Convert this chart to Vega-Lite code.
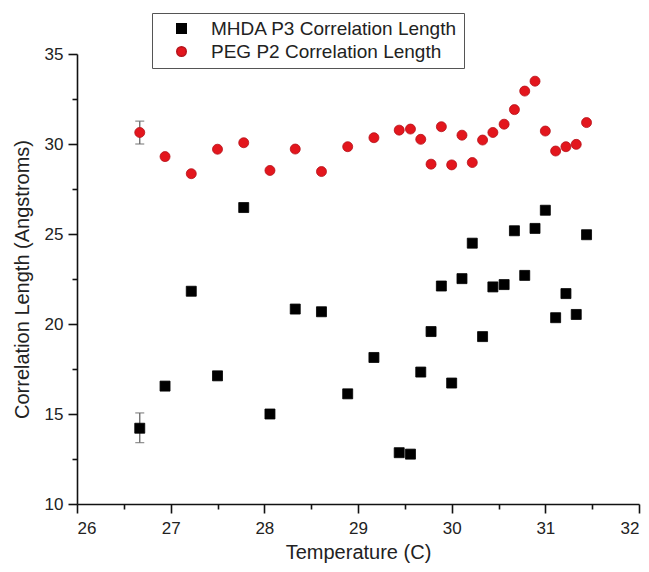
{
  "$schema": "https://vega.github.io/schema/vega-lite/v6.json",
  "width": 562,
  "height": 450,
  "autosize": {"type": "none"},
  "padding": {"left": 77, "top": 54, "right": 10, "bottom": 68},
  "background": "white",
  "config": {
    "view": {"stroke": null},
    "font": "Liberation Sans",
    "axis": {"grid": false, "domainColor": "#111", "domainWidth": 1.6, "tickColor": "#111", "tickWidth": 1.6, "labelFont": "Liberation Sans", "titleFont": "Liberation Sans", "labelColor": "#222", "titleColor": "#222", "titleFontWeight": "normal"}
  },
  "datasets": {
    "points": [
      {"series": "MHDA P3 Correlation Length", "x": 26.67, "y": 14.21},
      {"series": "MHDA P3 Correlation Length", "x": 26.94, "y": 16.55},
      {"series": "MHDA P3 Correlation Length", "x": 27.22, "y": 21.82},
      {"series": "MHDA P3 Correlation Length", "x": 27.5, "y": 17.12},
      {"series": "MHDA P3 Correlation Length", "x": 27.78, "y": 26.47},
      {"series": "MHDA P3 Correlation Length", "x": 28.06, "y": 15.0},
      {"series": "MHDA P3 Correlation Length", "x": 28.33, "y": 20.83},
      {"series": "MHDA P3 Correlation Length", "x": 28.61, "y": 20.68},
      {"series": "MHDA P3 Correlation Length", "x": 28.89, "y": 16.12},
      {"series": "MHDA P3 Correlation Length", "x": 29.17, "y": 18.14},
      {"series": "MHDA P3 Correlation Length", "x": 29.44, "y": 12.85},
      {"series": "MHDA P3 Correlation Length", "x": 29.56, "y": 12.77},
      {"series": "MHDA P3 Correlation Length", "x": 29.67, "y": 17.33},
      {"series": "MHDA P3 Correlation Length", "x": 29.78, "y": 19.58},
      {"series": "MHDA P3 Correlation Length", "x": 29.89, "y": 22.11},
      {"series": "MHDA P3 Correlation Length", "x": 30.0, "y": 16.72},
      {"series": "MHDA P3 Correlation Length", "x": 30.11, "y": 22.52},
      {"series": "MHDA P3 Correlation Length", "x": 30.22, "y": 24.49},
      {"series": "MHDA P3 Correlation Length", "x": 30.33, "y": 19.3},
      {"series": "MHDA P3 Correlation Length", "x": 30.44, "y": 22.06},
      {"series": "MHDA P3 Correlation Length", "x": 30.56, "y": 22.19},
      {"series": "MHDA P3 Correlation Length", "x": 30.67, "y": 25.18},
      {"series": "MHDA P3 Correlation Length", "x": 30.78, "y": 22.7},
      {"series": "MHDA P3 Correlation Length", "x": 30.89, "y": 25.31},
      {"series": "MHDA P3 Correlation Length", "x": 31.0, "y": 26.32},
      {"series": "MHDA P3 Correlation Length", "x": 31.11, "y": 20.35},
      {"series": "MHDA P3 Correlation Length", "x": 31.22, "y": 21.69},
      {"series": "MHDA P3 Correlation Length", "x": 31.33, "y": 20.53},
      {"series": "MHDA P3 Correlation Length", "x": 31.44, "y": 24.96},
      {"series": "PEG P2 Correlation Length", "x": 26.67, "y": 30.64},
      {"series": "PEG P2 Correlation Length", "x": 26.94, "y": 29.3},
      {"series": "PEG P2 Correlation Length", "x": 27.22, "y": 28.35},
      {"series": "PEG P2 Correlation Length", "x": 27.5, "y": 29.71},
      {"series": "PEG P2 Correlation Length", "x": 27.78, "y": 30.07},
      {"series": "PEG P2 Correlation Length", "x": 28.06, "y": 28.53},
      {"series": "PEG P2 Correlation Length", "x": 28.33, "y": 29.72},
      {"series": "PEG P2 Correlation Length", "x": 28.61, "y": 28.47},
      {"series": "PEG P2 Correlation Length", "x": 28.89, "y": 29.85},
      {"series": "PEG P2 Correlation Length", "x": 29.17, "y": 30.35},
      {"series": "PEG P2 Correlation Length", "x": 29.44, "y": 30.77},
      {"series": "PEG P2 Correlation Length", "x": 29.56, "y": 30.83},
      {"series": "PEG P2 Correlation Length", "x": 29.67, "y": 30.26},
      {"series": "PEG P2 Correlation Length", "x": 29.78, "y": 28.88},
      {"series": "PEG P2 Correlation Length", "x": 29.89, "y": 30.96},
      {"series": "PEG P2 Correlation Length", "x": 30.0, "y": 28.84},
      {"series": "PEG P2 Correlation Length", "x": 30.11, "y": 30.49},
      {"series": "PEG P2 Correlation Length", "x": 30.22, "y": 28.97},
      {"series": "PEG P2 Correlation Length", "x": 30.33, "y": 30.22},
      {"series": "PEG P2 Correlation Length", "x": 30.44, "y": 30.64},
      {"series": "PEG P2 Correlation Length", "x": 30.56, "y": 31.1},
      {"series": "PEG P2 Correlation Length", "x": 30.67, "y": 31.91},
      {"series": "PEG P2 Correlation Length", "x": 30.78, "y": 32.94},
      {"series": "PEG P2 Correlation Length", "x": 30.89, "y": 33.49},
      {"series": "PEG P2 Correlation Length", "x": 31.0, "y": 30.72},
      {"series": "PEG P2 Correlation Length", "x": 31.11, "y": 29.61},
      {"series": "PEG P2 Correlation Length", "x": 31.22, "y": 29.85},
      {"series": "PEG P2 Correlation Length", "x": 31.33, "y": 29.98},
      {"series": "PEG P2 Correlation Length", "x": 31.44, "y": 31.19}
    ],
    "errors": [
      {"series": "MHDA P3 Correlation Length", "x": 26.67, "lo": 13.41, "hi": 15.06},
      {"series": "PEG P2 Correlation Length", "x": 26.67, "lo": 30.0, "hi": 31.27}
    ]
  },
  "resolve": {"axis": {"x": "independent", "y": "independent"}},
  "layer": [
    {
      "data": {"name": "errors"},
      "mark": {"type": "rule", "color": "#666", "strokeWidth": 1.3},
      "encoding": {
        "x": {"field": "x", "type": "quantitative", "scale": {"domain": [26, 32], "nice": false, "zero": false},
          "axis": {"orient": "bottom", "values": [26.5, 27.5, 28.5, 29.5, 30.5, 31.5], "tickSize": 5, "labels": false, "domain": false, "title": null}},
        "y": {"field": "lo", "type": "quantitative", "scale": {"domain": [10, 35], "nice": false, "zero": false},
          "axis": {"orient": "left", "values": [12.5, 17.5, 22.5, 27.5, 32.5], "tickSize": 5, "labels": false, "domain": false, "title": null}},
        "y2": {"field": "hi"}
      }
    },
    {
      "data": {"name": "errors"},
      "mark": {"type": "tick", "orient": "horizontal", "color": "#666", "size": 9, "thickness": 1.3},
      "encoding": {
        "x": {"field": "x", "type": "quantitative", "scale": {"domain": [26, 32], "nice": false, "zero": false}, "axis": null},
        "y": {"field": "lo", "type": "quantitative", "scale": {"domain": [10, 35], "nice": false, "zero": false}, "axis": null}
      }
    },
    {
      "data": {"name": "errors"},
      "mark": {"type": "tick", "orient": "horizontal", "color": "#666", "size": 9, "thickness": 1.3},
      "encoding": {
        "x": {"field": "x", "type": "quantitative", "scale": {"domain": [26, 32], "nice": false, "zero": false}, "axis": null},
        "y": {"field": "hi", "type": "quantitative", "scale": {"domain": [10, 35], "nice": false, "zero": false}, "axis": null}
      }
    },
    {
      "data": {"name": "points"},
      "mark": {"type": "point", "filled": true, "size": 100, "opacity": 1, "strokeWidth": 0.8},
      "encoding": {
        "x": {"field": "x", "type": "quantitative", "scale": {"domain": [26, 32], "nice": false, "zero": false},
          "axis": {"orient": "bottom", "values": [26, 27, 28, 29, 30, 31, 32], "tickSize": 9, "labelFontSize": 17, "labelPadding": 7, "title": "Temperature (C)", "titleFontSize": 20, "titlePadding": 6, "format": "d"}},
        "y": {"field": "y", "type": "quantitative", "scale": {"domain": [10, 35], "nice": false, "zero": false},
          "axis": {"orient": "left", "values": [10, 15, 20, 25, 30, 35], "tickSize": 9, "labelFontSize": 17, "labelPadding": 5, "title": "Correlation Length (Angstroms)", "titleFontSize": 20, "titlePadding": 12, "format": "d"}},
        "color": {"field": "series", "type": "nominal",
          "scale": {"domain": ["MHDA P3 Correlation Length", "PEG P2 Correlation Length"], "range": ["#000000", "#e3161d"]},
          "legend": {"orient": "none", "legendX": 75, "legendY": -41, "title": null, "strokeColor": "#555", "padding": 6, "labelFontSize": 19, "labelLimit": 500, "labelColor": "#222", "labelFont": "Liberation Sans", "symbolSize": 90, "labelOffset": 20, "rowPadding": 3, "symbolOffset": 14}},
        "stroke": {"field": "series", "type": "nominal",
          "scale": {"domain": ["MHDA P3 Correlation Length", "PEG P2 Correlation Length"], "range": ["#000000", "#b5121a"]}},
        "shape": {"field": "series", "type": "nominal",
          "scale": {"domain": ["MHDA P3 Correlation Length", "PEG P2 Correlation Length"], "range": ["square", "circle"]}}
      }
    }
  ]
}
